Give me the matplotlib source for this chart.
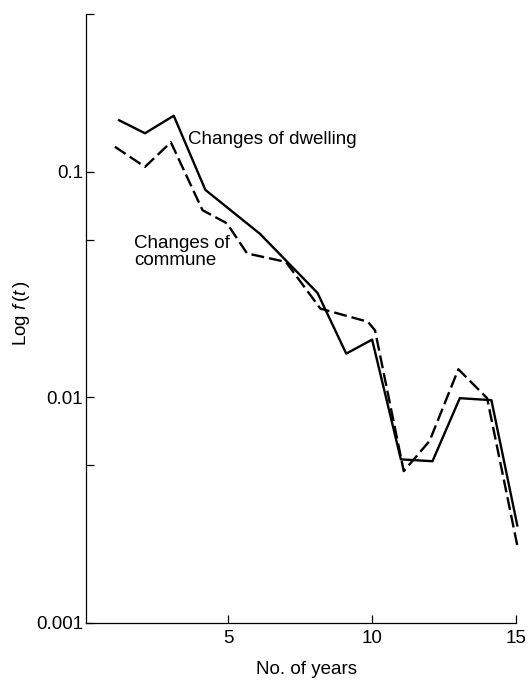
import matplotlib
matplotlib.use("Agg")
import matplotlib.pyplot as plt
from matplotlib.ticker import FixedLocator, NullFormatter

plt.rcParams['font.family'] = ['Liberation Sans', 'DejaVu Sans']
plt.rcParams['mathtext.fontset'] = 'custom'
plt.rcParams['mathtext.rm'] = 'Liberation Sans'
plt.rcParams['mathtext.it'] = 'Liberation Sans:italic'

# values (years, f(t))
dwelling_t = [1.2, 2.1, 3.1, 4.2, 6.1, 8.1, 9.1, 10.0, 11.0, 12.1, 13.05, 14.15, 15.05]
dwelling_f = [0.169, 0.148, 0.177, 0.083, 0.053, 0.029, 0.0156, 0.018, 0.0053, 0.0052,
              0.0099, 0.0097, 0.0027]
commune_t = [1.05, 2.1, 3.0, 4.1, 4.95, 5.65, 7.0, 8.2, 9.85, 10.1, 11.1, 12.0, 13.0,
             14.0, 15.05]
commune_f = [0.129, 0.105, 0.135, 0.0675, 0.059, 0.0434, 0.0398, 0.0247, 0.0216, 0.0198,
             0.0047, 0.0064, 0.0133, 0.0099, 0.0022]

x_ticks = [5, 10, 15]
y_ticks = [0.001, 0.01, 0.1]
y_ticklabels = ['0.001', '0.01', '0.1']
y_minor = [0.005, 0.05, 0.5]

fs = 13.5
W, H = 528, 681

fig = plt.figure(figsize=(W / 100, H / 100), dpi=100)
ax = fig.add_axes([0.163, 0.0856, 0.814, 0.8938])

ax.plot(dwelling_t, dwelling_f, color='black', lw=1.7, clip_on=False)
ax.plot(commune_t, commune_f, color='black', lw=1.7, dashes=(5.5, 2.1), clip_on=False)

ax.set_yscale('log')
ax.set_xlim(0.05, 15)
ax.set_ylim(0.001, 0.5)

ax.spines['top'].set_visible(False)
ax.spines['right'].set_visible(False)
for s in ('left', 'bottom'):
    ax.spines[s].set_linewidth(0.9)

ax.set_xticks(x_ticks)
ax.set_xticklabels([str(v) for v in x_ticks])
ax.xaxis.set_minor_locator(FixedLocator([]))
ax.set_yticks(y_ticks)
ax.set_yticklabels(y_ticklabels)
ax.yaxis.set_minor_locator(FixedLocator(y_minor))
ax.yaxis.set_minor_formatter(NullFormatter())
ax.tick_params(axis='both', which='both', direction='in', length=6, width=0.9,
               labelsize=fs)
ax.tick_params(axis='x', pad=5)
ax.tick_params(axis='y', pad=2)

ax.text(3.6, 0.139, 'Changes of dwelling', fontsize=fs, va='center', ha='left')
ax.text(1.73, 0.044, 'Changes of\ncommune', fontsize=fs, va='center', ha='left',
        linespacing=1.05)

# axis titles placed in figure pixels
fig.text(306 / W, 1 - 669 / H, 'No. of years', fontsize=fs, ha='center', va='center')
fig.text(22 / W, 1 - 313 / H, 'Log $f\\,(t\\,)$', fontsize=fs, ha='center', va='center',
         rotation=90)

fig.savefig('out.png', dpi=100)
